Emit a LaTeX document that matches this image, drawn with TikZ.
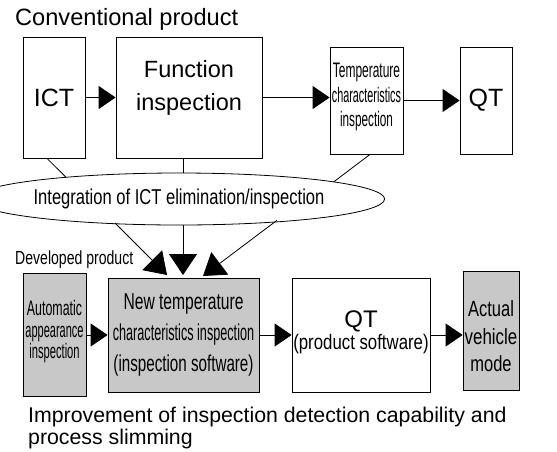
\documentclass[tikz,border=0pt]{standalone}
\usepackage{fontspec}
\setmainfont{Liberation Sans}
\usepackage{graphicx}
\usetikzlibrary{arrows.meta,shapes.geometric,calc}
\definecolor{boxgray}{RGB}{200,200,200}
\newcommand\sx[2]{\scalebox{#1}[1]{#2}}
\tikzset{
  box/.style={draw=black, line width=0.8pt, inner sep=0pt, align=center},
  gbox/.style={box, fill=boxgray},
  conn/.style={draw=black, line width=0.8pt},
  arr/.style={conn, -{Triangle[length=17pt,width=23pt]}},
  darr/.style={conn, -{Triangle[length=21pt,width=28pt]}},
  lbl/.style={inner sep=0pt},
}
\begin{document}
\begin{tikzpicture}[x=1pt,y=-1pt]
\useasboundingbox (0,0) rectangle (557,451);
% titles
\node[lbl, anchor=base west, font=\fontsize{23.6}{28}\selectfont] (conv) at (15,25) {Conventional product};
% top row
\node[box, minimum width=62pt, minimum height=121pt, font=\fontsize{25}{30}\selectfont] (ICT) at (54,97.5) {ICT};
\node[box, minimum width=146pt, minimum height=121pt, text depth=25pt, font=\fontsize{23.5}{33}\selectfont] (Func) at (189,97.5) {Function\\inspection};
\node[box, minimum width=73pt, minimum height=107pt, text depth=11.3pt, font=\fontsize{21}{24.5}\selectfont] (Temp) at (366.5,100.5) {\sx{0.57}{Temperature}\\\sx{0.515}{characteristics}\\\sx{0.56}{inspection}};
\node[box, minimum width=52pt, minimum height=107pt, font=\fontsize{25}{30}\selectfont] (QTa) at (486,100.5) {QT};
\draw[arr] (ICT.east) -- (ICT.east -| Func.west);
\draw[arr] (Func.east) -- (Func.east -| Temp.west);
\draw[arr] (Temp.east) -- (Temp.east -| QTa.west);
% lines into the ellipse
\coordinate (e1) at (68,179.2);
\coordinate (e2) at (183,173);
\coordinate (e3) at (328,186.2);
\draw[conn] ($(ICT.south)+(-7,0)$) -- (e1);
\draw[conn] (Func.south -| e2) -- (e2);
\draw[conn] ($(Temp.south)+(3.5,0)$) -- (e3);
% ellipse
\node[ellipse, draw=black, line width=0.8pt, fill=white, minimum width=342pt, minimum height=52pt, inner sep=0pt, font=\fontsize{21.5}{25}\selectfont] (Ell) at (179,199) {\sx{0.77}{Integration of ICT elimination/inspection}};
% developed product
\node[lbl, anchor=base west, font=\fontsize{19}{22}\selectfont] (dev) at (15,264) {\sx{0.74}{Developed product}};
% bottom row
\node[gbox, minimum width=63pt, minimum height=123pt, text depth=9.3pt, font=\fontsize{21}{21.5}\selectfont] (Auto) at (54.5,334.5) {\sx{0.59}{Automatic}\\\sx{0.524}{appearance}\\\sx{0.533}{inspection}};
\node[gbox, minimum width=151pt, minimum height=114pt, font=\fontsize{23}{31}\selectfont] (NewT) at (183.5,335) {\sx{0.68}{New temperature}\\\sx{0.55}{characteristics inspection}\\\sx{0.66}{(inspection software)}};
\node[box, minimum width=138pt, minimum height=114pt, text depth=10pt, font=\fontsize{21}{22}\selectfont] (QTb) at (361,335) {{\fontsize{24}{24}\selectfont QT}\\\sx{0.80}{(product software)}};
\node[gbox, minimum width=56pt, minimum height=119pt, text height=83pt, font=\fontsize{22}{27.5}\selectfont] (Act) at (491,330.5) {\sx{0.75}{Actual}\\\sx{0.77}{vehicle}\\\sx{0.75}{mode}};
\draw[arr] (Auto.east |- NewT.west) -- (NewT.west);
\draw[arr] (NewT.east) -- (QTb.west);
\draw[arr] (QTb.east) -- (QTb.east -| Act.west);
% arrows from ellipse
\coordinate (s1) at (115,223);
\coordinate (s2) at (183,225);
\coordinate (s3) at (277,220.3);
\coordinate (t1) at (167,275);
\coordinate (t2) at (183,275);
\coordinate (t3) at (203,276);
\draw[darr] (s1) -- (t1);
\draw[darr] (s2) -- (t2);
\draw[darr] (s3) -- (t3);
% bottom caption
\node[lbl, anchor=north west, align=left, font=\fontsize{21.3}{22.5}\selectfont] (imp) at (28,406.5) {Improvement of inspection detection capability and\\process slimming};
\end{tikzpicture}
\end{document}
